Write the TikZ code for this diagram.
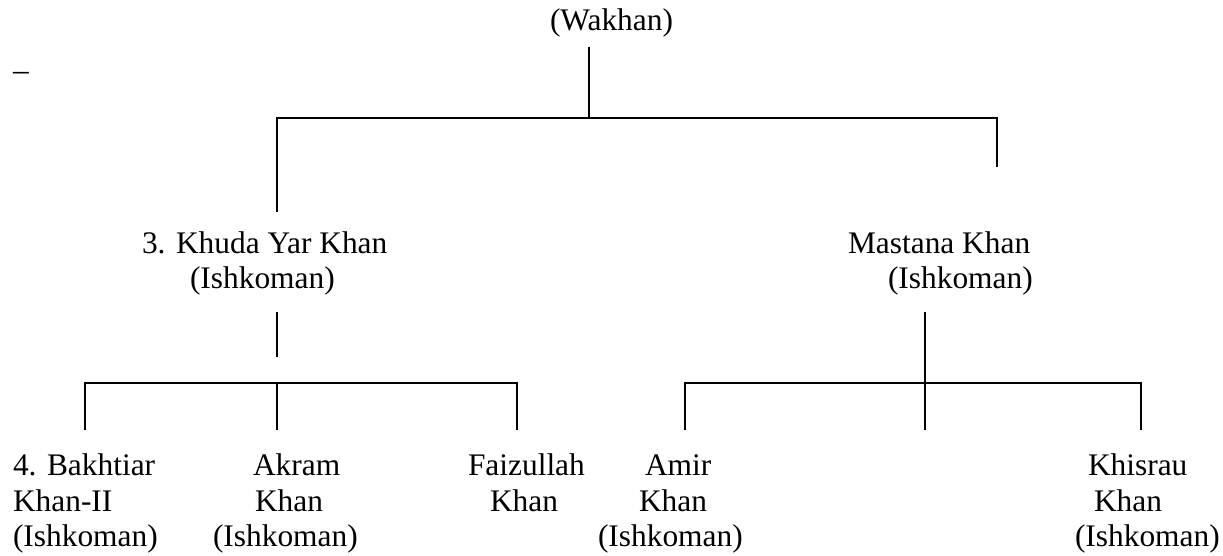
\documentclass[tikz,border=0pt]{standalone}
\usepackage{fontspec}
\setmainfont{Liberation Serif}
\begin{document}
\begin{tikzpicture}[x=1pt,y=-1pt,
  lbl/.style={anchor=base west,inner sep=0pt,outer sep=0pt,font=\fontsize{31.4}{37}\selectfont},
  conn/.style={draw=black,line width=2pt,line join=miter}]
\useasboundingbox (0,0) rectangle (1223,555);
% text
\node[lbl] (wakhan) at (550,30) {(Wakhan)};
\node[lbl] (dash) at (13,80) {–};
\node[lbl] (khudaA) at (142,253) {3. Khuda Yar Khan};
\node[lbl] (khudaB) at (190,288) {(Ishkoman)};
\node[lbl] (mastA) at (848,253) {Mastana Khan};
\node[lbl] (mastB) at (888,288) {(Ishkoman)};
\node[lbl] (bakhA) at (13,475) {4. Bakhtiar};
\node[lbl] (bakhB) at (13,511) {Khan-II};
\node[lbl] (bakhC) at (13,546) {(Ishkoman)};
\node[lbl] (akrA) at (253,475) {Akram};
\node[lbl] (akrB) at (255,511) {Khan};
\node[lbl] (akrC) at (213,546) {(Ishkoman)};
\node[lbl] (faizA) at (468,475) {Faizullah};
\node[lbl] (faizB) at (490,511) {Khan};
\node[lbl] (amirA) at (645,475) {Amir};
\node[lbl] (amirB) at (639,511) {Khan};
\node[lbl] (amirC) at (598,546) {(Ishkoman)};
\node[lbl] (khisA) at (1088,475) {Khisrau};
\node[lbl] (khisB) at (1094,511) {Khan};
\node[lbl] (khisC) at (1075,546) {(Ishkoman)};
% junction coordinates
\coordinate (wakTop) at (589,47);
\coordinate (wakBot) at (589,118);
\coordinate (barL) at (277,118);
\coordinate (barR) at (997,118);
\coordinate (khudaIn) at (277,212);
\coordinate (mastIn) at (997,167);
\coordinate (khudaOutT) at (277,312);
\coordinate (khudaOutB) at (277,357);
\coordinate (lbL) at (85,383);
\coordinate (lbR) at (517,383);
\coordinate (lbM) at (277,383);
\coordinate (bakhIn) at (85,430);
\coordinate (akrIn) at (277,430);
\coordinate (faizIn) at (517,430);
\coordinate (mastOut) at (925,312);
\coordinate (rbM) at (925,383);
\coordinate (midIn) at (925,430);
\coordinate (rbL) at (685,383);
\coordinate (rbR) at (1141,383);
\coordinate (amirIn) at (685,430);
\coordinate (khisIn) at (1141,430);
% connectors
\draw[conn] (wakTop) -- (wakBot);
\draw[conn] (khudaIn) -- (barL) -- (barR) -- (mastIn);
\draw[conn] (khudaOutT) -- (khudaOutB);
\draw[conn] (bakhIn) -- (lbL) -- (lbR) -- (faizIn);
\draw[conn] (lbM) -- (akrIn);
\draw[conn] (mastOut) -- (midIn);
\draw[conn] (amirIn) -- (rbL) -- (rbR) -- (khisIn);
\end{tikzpicture}
\end{document}
